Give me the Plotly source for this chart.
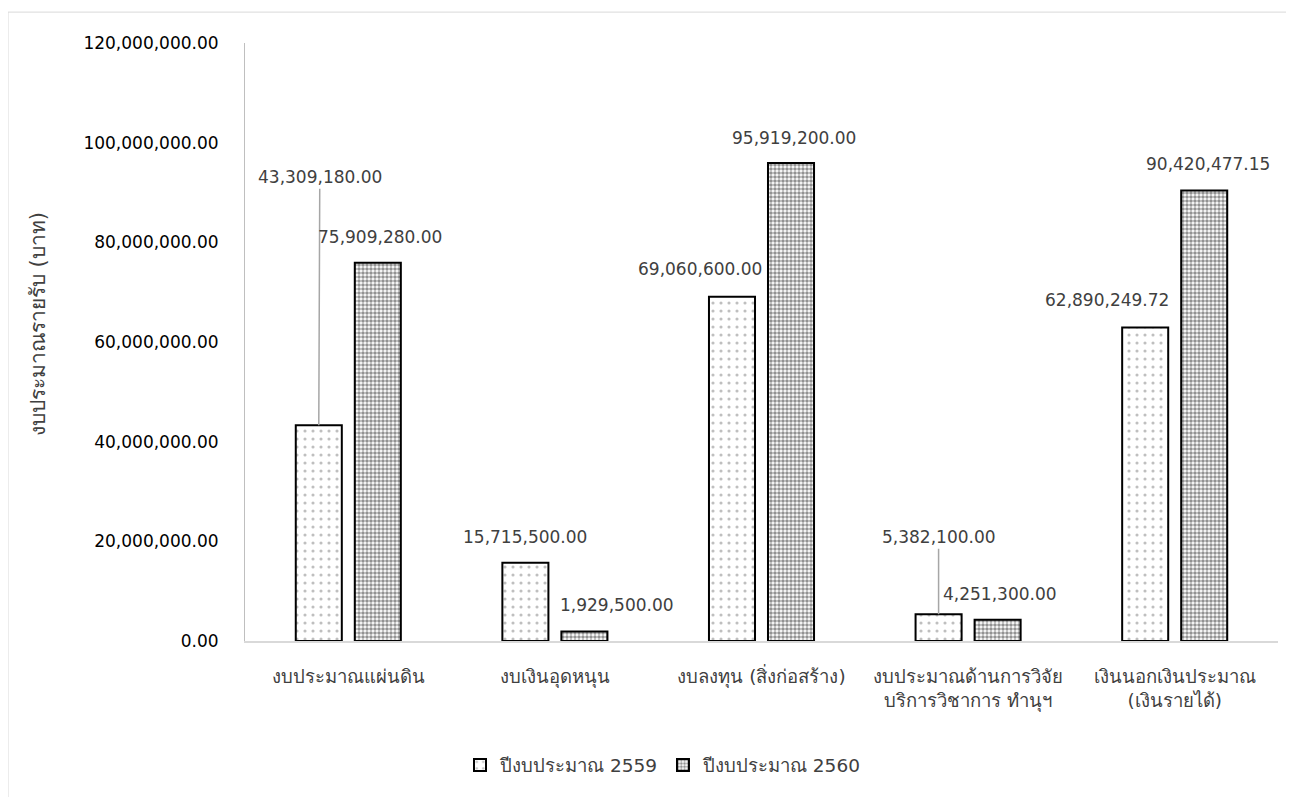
import plotly.graph_objects as go

categories = [
    "งบประมาณแผ่นดิน",
    "งบเงินอุดหนุน",
    "งบลงทุน (สิ่งก่อสร้าง)",
    "งบประมาณด้านการวิจัย<br>บริการวิชาการ ทำนุฯ",
    "เงินนอกเงินประมาณ<br>(เงินรายได้)",
]
series_names = ["ปีงบประมาณ 2559", "ปีงบประมาณ 2560"]
values_2559 = [43309180.00, 15715500.00, 69060600.00, 5382100.00, 62890249.72]
values_2560 = [75909280.00, 1929500.00, 95919200.00, 4251300.00, 90420477.15]
y_tick_values = [0, 20e6, 40e6, 60e6, 80e6, 100e6, 120e6]

# label offsets (px) from bar centre / bar top, as Excel placed them
label_dx_2559 = [1, 0, -32, 0, -38]
label_dy_2559 = [248, 26, 28, 77, 28]
leader_2559 = [True, False, False, True, False]
label_dx_2560 = [2, 33, 3, 2, 4]
label_dy_2560 = [26, 26, 25, 26, 26]

FONT = "DejaVu Sans, Noto Sans, sans-serif"
LABEL_COLOR = "#404040"

OFF = 8  # browser body margin
W, H = 1294 - OFF, 797 - OFF
PLOT_L, PLOT_R, PLOT_T, PLOT_B = 245 - OFF, 1278 - OFF, 43 - OFF, 643 - OFF
BARGAP = 0.4286
BARGROUPGAP = 0.22
cat_px = (PLOT_R - PLOT_L) / len(categories)
slot_shift = cat_px * (1 - BARGAP) / 4  # centre of each trace slot from category centre


def px_x(p):
    return (p - OFF - PLOT_L) / (PLOT_R - PLOT_L)


def px_y(p):
    return (PLOT_B - (p - OFF)) / (PLOT_B - PLOT_T)


fig = go.Figure()
fig.add_trace(go.Bar(
    name=series_names[0], x=categories, y=values_2559,
    marker=dict(color="white", line=dict(color="black", width=2),
                pattern=dict(shape=".", fgcolor="#7f7f7f", bgcolor="white",
                             size=8, solidity=0.12, fillmode="overlay")),
))
fig.add_trace(go.Bar(
    name=series_names[1], x=categories, y=values_2560,
    marker=dict(color="white", line=dict(color="black", width=2),
                pattern=dict(shape=".", fgcolor="#262626", bgcolor="white",
                             size=4, solidity=0.62, fillmode="overlay")),
))

annotations = []
for i, c in enumerate(categories):
    v = values_2559[i]
    if leader_2559[i]:
        annotations.append(dict(
            x=c, y=v, xref="x", yref="y", xshift=-slot_shift,
            text=f"{v:,.2f}", showarrow=True, arrowhead=0, arrowwidth=1.5,
            arrowcolor="#a6a6a6", ax=label_dx_2559[i], ay=-label_dy_2559[i],
            standoff=0, startstandoff=0,
            font=dict(family=FONT, size=17, color=LABEL_COLOR)))
    else:
        annotations.append(dict(
            x=c, y=v, xref="x", yref="y",
            xshift=-slot_shift + label_dx_2559[i], yshift=label_dy_2559[i],
            text=f"{v:,.2f}", showarrow=False,
            font=dict(family=FONT, size=17, color=LABEL_COLOR)))
    v2 = values_2560[i]
    annotations.append(dict(
        x=c, y=v2, xref="x", yref="y",
        xshift=slot_shift + label_dx_2560[i], yshift=label_dy_2560[i],
        text=f"{v2:,.2f}", showarrow=False,
        font=dict(family=FONT, size=17, color=LABEL_COLOR)))

# y-axis title
annotations.append(dict(
    x=px_x(38), y=px_y(325), xref="paper", yref="paper", xanchor="center", yanchor="middle",
    text="งบประมาณรายรับ (บาท)", textangle=-90, showarrow=False,
    font=dict(family=FONT, size=21, color=LABEL_COLOR)))

fig.update_layout(
    width=W, height=H,
    margin=dict(l=PLOT_L, r=W - PLOT_R, t=PLOT_T, b=H - PLOT_B),
    paper_bgcolor="white", plot_bgcolor="white",
    barmode="group", bargap=BARGAP, bargroupgap=BARGROUPGAP,
    font=dict(family=FONT, color=LABEL_COLOR),
    showlegend=True,
    legend=dict(orientation="h", x=px_x(663), y=px_y(768), xanchor="center",
                yanchor="middle", font=dict(family=FONT, size=18.5, color=LABEL_COLOR),
                itemwidth=30, traceorder="normal"),
    annotations=annotations,
    shapes=[dict(type="rect", xref="paper", yref="paper",
                 x0=px_x(8), x1=px_x(1320), y0=px_y(12), y1=px_y(820),
                 line=dict(color="#d9d9d9", width=1), layer="below")],
    xaxis=dict(showgrid=False, showline=True, linecolor="#d9d9d9", linewidth=1.5,
               ticks="", tickfont=dict(family=FONT, size=18.5, color=LABEL_COLOR),
               ticklabelstandoff=18, zeroline=False),
    yaxis=dict(range=[0, 120e6], tickvals=y_tick_values, tickformat=",.2f",
               showgrid=False, showline=True, linecolor="#bfbfbf", linewidth=1,
               ticks="", ticklabelstandoff=22, zeroline=False,
               tickfont=dict(family=FONT, size=17, color="black")),
)

fig.write_html("out.html")
